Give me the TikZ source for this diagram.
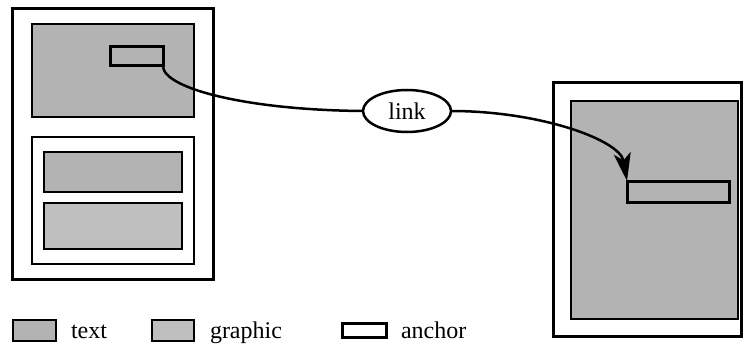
\documentclass[tikz,border=0pt]{standalone}
\usepackage{fontspec}
\setmainfont{Liberation Serif}
\usetikzlibrary{arrows.meta,shapes.geometric}
\definecolor{textgray}{HTML}{B3B3B3}
\definecolor{graphgray}{HTML}{BFBFBF}
\begin{document}
\begin{tikzpicture}[x=1pt,y=-1pt,
  every node/.style={inner sep=0pt,outer sep=0pt},
  pagebox/.style={draw,line width=3pt,rectangle},
  thinbox/.style={draw,line width=1.5pt,rectangle},
  textbox/.style={thinbox,fill=textgray},
  graphbox/.style={thinbox,fill=graphgray},
  anchorbox/.style={draw,line width=3pt,rectangle},
  linkell/.style={draw,line width=2.5pt,ellipse},
  conn/.style={line width=2.5pt},
  lbl/.style={font=\fontsize{24}{28}\selectfont}]
\useasboundingbox (0,0) rectangle (744,350);
% left page
\node[pagebox,minimum width=201pt,minimum height=270pt] (outerL) at (112.5,144) {};
\node[textbox,minimum width=162pt,minimum height=93pt] (textTop) at (113,70.5) {};
\node[anchorbox,minimum width=53pt,minimum height=19pt] (anchorL) at (136.5,56.5) {};
\node[thinbox,minimum width=162pt,minimum height=127pt] (inner) at (113,200.5) {};
\node[textbox,minimum width=138pt,minimum height=40pt] (textMid) at (113,172) {};
\node[graphbox,minimum width=138pt,minimum height=46pt] (graph) at (113,226) {};
% right page
\node[pagebox,minimum width=188pt,minimum height=253pt] (outerR) at (647,209.5) {};
\node[textbox,minimum width=167pt,minimum height=218pt] (textR) at (654.5,210) {};
\node[anchorbox,minimum width=102pt,minimum height=21pt] (anchorR) at (678,191.5) {};
% link
\node[linkell,minimum width=88pt,minimum height=42pt,lbl] (link) at (407,111) {link};
\draw[conn] (anchorL.south east) .. controls (163,88) and (245,110) .. (link.west);
\draw[conn,-{Stealth[length=28pt,width=17pt,inset=7pt]}] (link.east) .. controls (540,111) and (620,140) .. (anchorR.north west);
% legend
\node[textbox,minimum width=43pt,minimum height=21pt] (legText) at (34.5,330.5) {};
\node[lbl,anchor=base west] (legTextL) at (71,338) {text};
\node[graphbox,minimum width=42pt,minimum height=21pt] (legGraph) at (173,330.5) {};
\node[lbl,anchor=base west] (legGraphL) at (210,338) {graphic};
\node[anchorbox,minimum width=44pt,minimum height=14pt] (legAnchor) at (364,330) {};
\node[lbl,anchor=base west] (legAnchorL) at (401,338) {anchor};
\end{tikzpicture}
\end{document}
